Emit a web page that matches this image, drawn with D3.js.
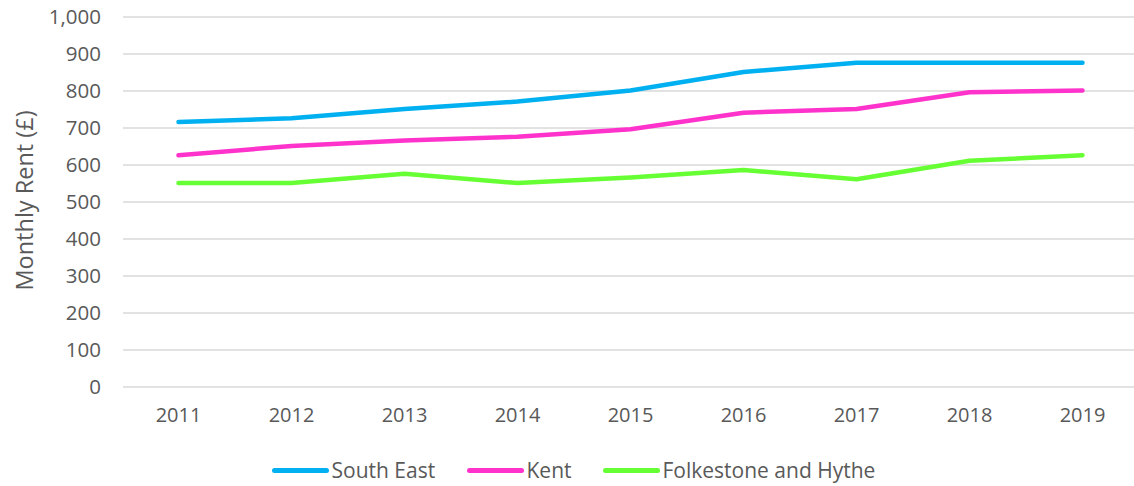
<!DOCTYPE html>
<html>
<head>
<meta charset="utf-8">
<script src="https://cdn.jsdelivr.net/npm/d3@7"></script>
<style>
  html, body { margin: 0; padding: 0; background: #fff; }
  svg { display: block; font-family: "Open Sans", "Noto Sans", sans-serif; }
</style>
</head>
<body>
<svg id="chart" width="1134" height="486"></svg>
<script>
const years = ["2011","2012","2013","2014","2015","2016","2017","2018","2019"];
const southEast = [715, 725, 750, 770, 800, 850, 875, 875, 875];
const kent = [625, 650, 665, 675, 695, 740, 750, 795, 800];
const folkestone = [550, 550, 575, 550, 565, 585, 560, 610, 625];
const seriesNames = ["South East", "Kent", "Folkestone and Hythe"];
const seriesColors = ["#00B0F0", "#FF33CC", "#66FF33"];
const yTicks = [0, 100, 200, 300, 400, 500, 600, 700, 800, 900, 1000];
const yTitle = "Monthly Rent (£)";

const series = [southEast, kent, folkestone].map((vals, i) => ({
  name: seriesNames[i], color: seriesColors[i],
  points: vals.map((v, j) => ({ year: years[j], value: v }))
}));

const FONT = '"Open Sans", "Noto Sans", sans-serif';
const TXT = "#595959";
const svg = d3.select("#chart");
const W = 1134;

const x = d3.scaleBand().domain(years).range([122, 1139]).padding(0);
const y = d3.scaleLinear().domain([0, 1000]).range([386.5, 16.5]);
const xc = d => x(d) + x.bandwidth() / 2;

// gridlines + y labels
const yAxis = d3.axisLeft(y).tickValues(yTicks).tickSize(-(W - 123)).tickPadding(22)
  .tickFormat(d3.format(","));
const gy = svg.append("g").attr("transform", "translate(123,0)").call(yAxis)
  .attr("font-family", FONT);
gy.select(".domain").remove();
gy.selectAll(".tick line").attr("stroke", "#d9d9d9").attr("stroke-width", 1.5);
gy.selectAll(".tick text").attr("fill", TXT).attr("font-size", "20.5px");

// x labels
const xAxis = d3.axisBottom(x).tickSize(0).tickPadding(21);
const gx = svg.append("g").attr("transform", "translate(0,386.5)").call(xAxis)
  .attr("font-family", FONT);
gx.select(".domain").remove();
gx.selectAll(".tick text").attr("fill", TXT).attr("font-size", "20px");

// y title
svg.append("text")
  .attr("transform", "translate(33,200.5) rotate(-90)")
  .attr("text-anchor", "middle")
  .attr("fill", TXT)
  .attr("font-size", "23.5px")
  .text(yTitle);

// lines
const line = d3.line().x(d => xc(d.year)).y(d => y(d.value));
svg.append("g").selectAll("path").data(series).join("path")
  .attr("d", d => line(d.points))
  .attr("fill", "none")
  .attr("stroke", d => d.color)
  .attr("stroke-width", 4.5)
  .attr("stroke-linecap", "round")
  .attr("stroke-linejoin", "round");

// legend
const legendX = [274.5, 469.5, 605.5];
const lg = svg.append("g").selectAll("g").data(series).join("g")
  .attr("transform", (d, i) => `translate(${legendX[i]},470.5)`);
lg.append("line").attr("x1", 0).attr("x2", 52).attr("y1", 0).attr("y2", 0)
  .attr("stroke", d => d.color).attr("stroke-width", 5).attr("stroke-linecap", "round");
lg.append("text").attr("x", 57).attr("y", 0).attr("dy", "0.35em")
  .attr("fill", TXT).attr("font-size", "21px")
  .text(d => d.name);
</script>
</body>
</html>
